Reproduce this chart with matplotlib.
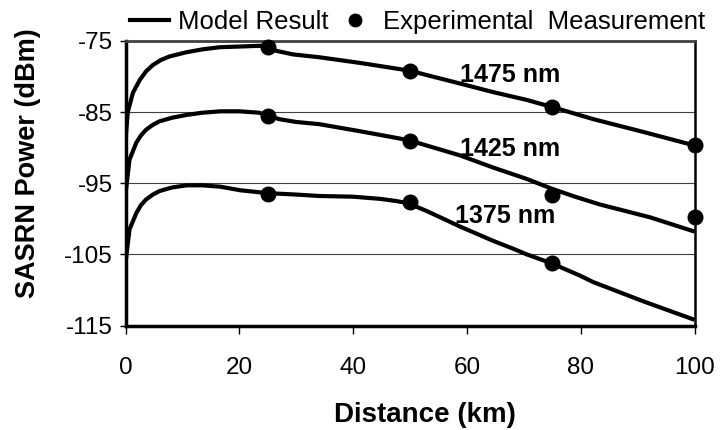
import matplotlib.pyplot as plt
from matplotlib.lines import Line2D

plt.rcParams['font.family'] = ['Liberation Sans', 'DejaVu Sans']
plt.rcParams['axes.unicode_minus'] = False

# model curves (distance km, power dBm)
x_1475 = [0, 0.4, 1.3, 2.5, 3.6, 4.8, 6.2, 7.7, 9.2, 10.7, 13.5, 16.5, 20, 23.5, 25, 26.5, 29.4, 34, 41.2,
          46, 50, 52.9, 58.8, 64.6, 70.5, 75, 82.2, 91, 100]
y_1475 = [-88.9, -85.0, -82.3, -80.5, -79.3, -78.4, -77.7, -77.2, -76.9, -76.6, -76.2, -75.9, -75.8, -75.7,
          -75.8, -76.4, -76.9, -77.3, -78.1, -78.7, -79.2, -79.8, -81.0, -82.2, -83.3, -84.3, -86.0, -87.8, -89.7]

x_1425 = [0, 0.7, 1.9, 2.7, 3.6, 4.8, 6.0, 8.2, 10.8, 13.5, 16.7, 20, 23.5, 25, 27, 30, 34, 41.2,
          46, 50, 52.9, 58.8, 64.6, 70.5, 75, 79, 83.4, 92.2, 100]
y_1425 = [-96.5, -91.7, -89.3, -88.3, -87.5, -86.8, -86.3, -85.8, -85.4, -85.1, -84.9, -84.9, -85.1, -85.5,
          -86.0, -86.4, -86.7, -87.7, -88.4, -89.0, -89.7, -91.1, -92.8, -94.4, -95.8, -96.9, -98.0, -99.8, -101.8]

x_1375 = [0, 0.7, 1.9, 2.7, 3.6, 4.8, 6.0, 8.2, 10.8, 13.5, 16.7, 20.2, 25, 30, 34, 40, 44.7,
          47.5, 49.6, 52.9, 56.4, 58.8, 64.6, 68.1, 70.5, 75, 79.9, 82.2, 91, 100]
y_1375 = [-106.2, -101.5, -99.2, -98.1, -97.3, -96.6, -96.1, -95.6, -95.3, -95.3, -95.5, -96.0, -96.4, -96.6,
          -96.8, -96.9, -97.2, -97.5, -97.8, -98.9, -100.2, -101.1, -103.1, -104.2, -105.0, -106.3, -108.0,
          -108.9, -111.6, -114.2]

# experimental measurements
mx_1475 = [25, 50, 75, 100]
my_1475 = [-75.8, -79.3, -84.3, -89.7]
mx_1425 = [25, 50, 75, 100]
my_1425 = [-85.5, -89.1, -96.6, -99.7]
mx_1375 = [25, 50, 75]
my_1375 = [-96.5, -97.6, -106.2]

labels = ['1475 nm', '1425 nm', '1375 nm']
label_x = [58.8, 58.8, 57.9]
label_y = [-79.8, -90.2, -99.6]

fig = plt.figure(figsize=(7.23, 4.30), dpi=100)
ax = fig.add_axes([0.1736, 0.243, 0.787, 0.662])

for xs, ys in [(x_1475, y_1475), (x_1425, y_1425), (x_1375, y_1375)]:
    ax.plot(xs, ys, color='black', lw=3, solid_capstyle='butt', solid_joinstyle='round', zorder=3)
for xs, ys in [(mx_1475, my_1475), (mx_1425, my_1425), (mx_1375, my_1375)]:
    ax.plot(xs, ys, 'o', color='black', ms=10.5, zorder=4, clip_on=False)

for t, lx, ly in zip(labels, label_x, label_y):
    ax.text(lx, ly, t, fontsize=18, fontweight='bold', ha='left', va='center', zorder=5)

ax.set_xlim(0, 100)
ax.set_ylim(-115, -75)
ax.set_xticks([0, 20, 40, 60, 80, 100])
ax.set_yticks([-115, -105, -95, -85, -75])
ax.yaxis.grid(True, color='#404040', lw=0.8)
ax.set_axisbelow(True)

for s in ['left', 'bottom']:
    ax.spines[s].set_linewidth(2.5)
ax.spines['top'].set_linewidth(2)
ax.spines['top'].set_color('#404040')
ax.spines['right'].set_linewidth(1.8)

ax.tick_params(axis='x', direction='out', length=6, width=1, labelsize=17.5, pad=17)
ax.tick_params(axis='y', direction='out', length=4, width=1, labelsize=17.5, pad=5)

ax.set_xlabel('Distance (km)', fontsize=20, fontweight='bold')
ax.xaxis.set_label_coords(0.526, -0.27)
ax.set_ylabel('SASRN Power (dBm)', fontsize=19.5, fontweight='bold')
ax.yaxis.set_label_coords(-0.148, 0.571)

handles = [Line2D([], [], color='black', lw=3),
           Line2D([], [], color='black', marker='o', ls='none', ms=9)]
fig.legend(handles, ['Model Result', 'Experimental  Measurement'],
           loc='center', bbox_to_anchor=(0.578, 0.948), ncol=2, frameon=False,
           fontsize=18.5, handlelength=1.5, handletextpad=0.35, columnspacing=0.3,
           borderaxespad=0, borderpad=0)

fig.savefig('out.png', dpi=100)
